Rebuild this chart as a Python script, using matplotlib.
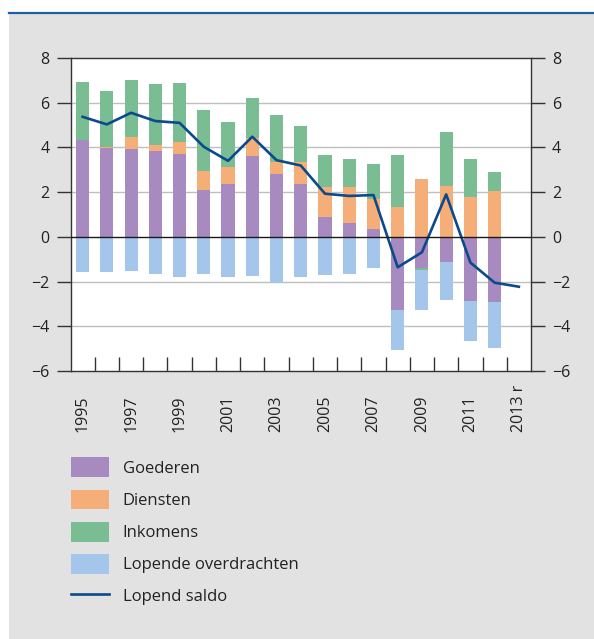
import numpy as np
import matplotlib
matplotlib.use("Agg")
import matplotlib.pyplot as plt
from matplotlib.patches import Rectangle
from matplotlib.lines import Line2D

plt.rcParams['font.family'] = ['Open Sans', 'DejaVu Sans']

# Data (% of GDP)
years = list(range(1995, 2014))
bar_years = years[:-1]
goederen = [4.33, 3.98, 3.92, 3.83, 3.70, 2.08, 2.35, 3.61, 2.80, 2.35,
            0.87, 0.64, 0.37, -3.25, -1.38, -1.11, -2.86, -2.90]
diensten = [0.00, 0.03, 0.54, 0.27, 0.54, 0.85, 0.76, 0.79, 0.54, 0.99,
            1.35, 1.58, 1.31, 1.32, 2.57, 2.26, 1.77, 2.04]
inkomens = [2.60, 2.52, 2.56, 2.74, 2.65, 2.74, 2.02, 1.81, 2.11, 1.62,
            1.43, 1.25, 1.57, 2.33, -0.09, 2.43, 1.70, 0.85]
overdrachten = [-1.56, -1.56, -1.51, -1.68, -1.81, -1.68, -1.81, -1.77, -2.08, -1.81,
                -1.72, -1.68, -1.41, -1.80, -1.78, -1.71, -1.80, -2.07]
saldo = [5.37, 5.03, 5.55, 5.18, 5.10, 4.03, 3.40, 4.48, 3.43, 3.19,
         1.93, 1.83, 1.87, -1.36, -0.69, 1.90, -1.15, -2.05, -2.23]
xlabels = ['1995', '1997', '1999', '2001', '2003', '2005', '2007', '2009', '2011', '2013 r']

series = [('Goederen', goederen, '#a68ac0'),
          ('Diensten', diensten, '#f5ae78'),
          ('Inkomens', inkomens, '#7bbd93'),
          ('Lopende overdrachten', overdrachten, '#a3c6ea')]

fig = plt.figure(figsize=(5.94, 6.39), dpi=100)
fig.patch.set_facecolor('white')
# gray panel + blue top rule
fig.patches.append(Rectangle((9 / 594, 0), 1, 1 - 13 / 639, transform=fig.transFigure,
                             facecolor='#e2e2e2', edgecolor='none', zorder=-10))
fig.lines.append(Line2D([9 / 594, 1], [1 - 12.5 / 639] * 2, transform=fig.transFigure,
                        color='#1f5fa5', lw=1.6))

ax = fig.add_axes([70.5 / 594, 1 - 371 / 639, (531 - 70.5) / 594, (371 - 58) / 639])
ax.set_facecolor('white')

x = np.arange(len(bar_years)) + 0.5
pos = np.zeros(len(bar_years))
neg = np.zeros(len(bar_years))
for name, vals, col in series:
    v = np.array(vals)
    bottom = np.where(v >= 0, pos, neg)
    ax.bar(x, v, width=0.54, bottom=bottom, color=col, label=name, zorder=3)
    pos = pos + np.where(v >= 0, v, 0)
    neg = neg + np.where(v < 0, v, 0)

xl = np.arange(len(years)) + 0.5
ax.plot(xl, saldo, color='#0b4a8b', lw=1.9, label='Lopend saldo', zorder=4)

ax.set_xlim(0, len(years))
ax.set_ylim(-6, 8)
ax.set_yticks(range(-6, 9, 2))
for yv in [-4, -2, 2, 4, 6]:
    ax.axhline(yv, color='#bfbfbf', lw=1, zorder=1)
ax.axhline(0, color='#1a1a1a', lw=1, zorder=5)

for s in ['left', 'right', 'bottom', 'top']:
    ax.spines[s].set_color('#333333')
    ax.spines[s].set_linewidth(1)

ax.tick_params(axis='y', which='both', direction='out', length=10, width=1,
               color='#333333', labelsize=11.5, labelcolor='#222222', pad=5,
               left=True, right=True, labelleft=True, labelright=True)

# category boundary ticks (inside) and labels centred under odd years
ax.set_xticks(np.arange(1, len(years)))
ax.set_xticklabels([])
ax.tick_params(axis='x', which='major', direction='in', length=10, width=1, color='#333333')
ax.set_xticks(np.arange(0, len(years), 2) + 0.5, minor=True)
ax.set_xticklabels(xlabels, minor=True, rotation=90, va='bottom', ha='center')
ax.tick_params(axis='x', which='minor', length=0, labelsize=11.5, labelcolor='#222222', pad=44)

handles, labels = ax.get_legend_handles_labels()
order = [1, 2, 3, 4, 0]
fig.legend([handles[i] for i in order], [labels[i] for i in order],
           loc='upper left', bbox_to_anchor=(71 / 594, 1 - 457.5 / 639),
           frameon=False, fontsize=12, handlelength=2.3, handleheight=1.45,
           handletextpad=0.8, labelspacing=0.74, borderpad=0, borderaxespad=0,
           labelcolor='#222222')

fig.savefig('out.png', dpi=100, facecolor=fig.get_facecolor())
